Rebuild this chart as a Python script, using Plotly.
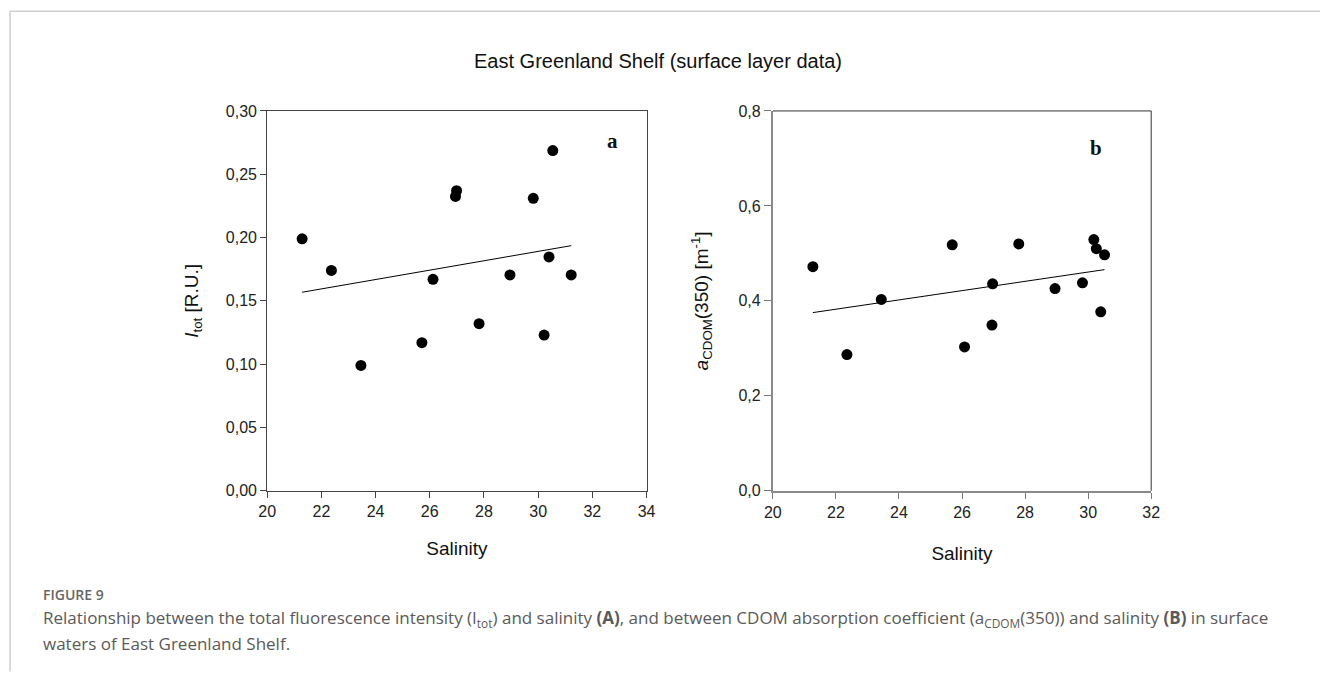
import numpy as np
import plotly.graph_objects as go

# ---- data ----
sal_a = [21.29, 22.37, 23.46, 25.71, 26.12, 26.95, 26.99, 27.82, 28.96, 29.82, 30.22, 30.40, 30.54, 31.22]
itot_a = [0.199, 0.174, 0.099, 0.117, 0.167, 0.2325, 0.237, 0.132, 0.1705, 0.231, 0.123, 0.1847, 0.2687, 0.1705]

sal_b = [21.27, 22.35, 23.44, 25.69, 26.08, 26.95, 26.97, 27.80, 28.95, 29.82, 30.18, 30.26, 30.40, 30.52]
acdom_b = [0.472, 0.287, 0.403, 0.518, 0.303, 0.349, 0.436, 0.520, 0.426, 0.438, 0.529, 0.510, 0.377, 0.497]

xticks_a = [20, 22, 24, 26, 28, 30, 32, 34]
yticks_a = [0.00, 0.05, 0.10, 0.15, 0.20, 0.25, 0.30]
xticks_b = [20, 22, 24, 26, 28, 30, 32]
yticks_b = [0.0, 0.2, 0.4, 0.6, 0.8]

title_text = "East Greenland Shelf (surface layer data)"
caption_head = "FIGURE 9"
caption_l1 = ("Relationship between the total fluorescence intensity (I<sub>tot</sub>) and salinity <b>(A)</b>, "
              "and between CDOM absorption coefficient (a<sub>CDOM</sub>(350)) and salinity <b>(B)</b> in surface")
caption_l2 = "waters of East Greenland Shelf."

W, H = 1320, 674
# observed page offset / scale of the photographed page
OFF, SX, SY = 8, 0.988, 0.977


def px(x):
    return (x / SX - OFF) / W


def py(y):
    return 1 - (y / SY - OFF) / H


fig = go.Figure()


def fit(xs, ys):
    k, b = np.polyfit(xs, ys, 1)
    xx = np.array([min(xs), max(xs)])
    return xx, k * xx + b


lx, ly = fit(sal_a, itot_a)
fig.add_trace(go.Scatter(x=lx, y=ly, mode="lines", line=dict(color="black", width=1),
                         xaxis="x", yaxis="y", showlegend=False, hoverinfo="skip"))
fig.add_trace(go.Scatter(x=sal_a, y=itot_a, mode="markers",
                         marker=dict(color="black", size=11),
                         xaxis="x", yaxis="y", showlegend=False))

lx2, ly2 = fit(sal_b, acdom_b)
fig.add_trace(go.Scatter(x=lx2, y=ly2, mode="lines", line=dict(color="black", width=1),
                         xaxis="x2", yaxis="y2", showlegend=False, hoverinfo="skip"))
fig.add_trace(go.Scatter(x=sal_b, y=acdom_b, mode="markers",
                         marker=dict(color="black", size=11),
                         xaxis="x2", yaxis="y2", showlegend=False))

ydom = [py(491.7), py(111)]
tickfont = dict(family="Liberation Sans, Arial, sans-serif", size=16, color="#222")
titlefont = dict(family="Liberation Sans, Arial, sans-serif", size=19, color="#111")

fig.update_layout(
    width=W, height=H,
    margin=dict(l=0, r=0, t=0, b=0),
    paper_bgcolor="white", plot_bgcolor="white",
    separators=",.",
    showlegend=False,
    xaxis=dict(domain=[px(266.5), px(646.5)], range=[20, 34], tickvals=xticks_a,
               showgrid=False, zeroline=False, showline=True, mirror=True,
               linecolor="#444", linewidth=1, ticks="outside", ticklen=6, tickcolor="#444",
               tickfont=tickfont, anchor="y",
               title=dict(text="Salinity", font=titlefont, standoff=22)),
    yaxis=dict(domain=ydom, range=[0, 0.30], tickvals=yticks_a, tickformat=".2f",
               showgrid=False, zeroline=False, showline=True, mirror=True,
               linecolor="#444", linewidth=1, ticks="outside", ticklen=6, tickcolor="#444",
               tickfont=tickfont, anchor="x",
               title=dict(text="<i>I</i><sub>tot</sub> [R.U.]", font=titlefont, standoff=22)),
    xaxis2=dict(domain=[px(773), px(1152)], range=[20, 32], tickvals=xticks_b,
                showgrid=False, zeroline=False, showline=True, mirror=False,
                linecolor="#8a8a8a", linewidth=2, ticks="outside", ticklen=6, tickcolor="#777",
                tickfont=tickfont, anchor="y2",
                title=dict(text="Salinity", font=titlefont, standoff=27)),
    yaxis2=dict(domain=ydom, range=[0, 0.8], tickvals=yticks_b, tickformat=".1f",
                showgrid=False, zeroline=False, showline=True, mirror=False,
                linecolor="#8a8a8a", linewidth=2, ticks="outside", ticklen=7, tickcolor="#777",
                tickfont=tickfont, anchor="x2",
                title=dict(text="<i>a</i><sub>CDOM</sub>(350) [m<sup>-1</sup>]", font=titlefont, standoff=25)),
)

# top and right frame of panel b (thin dark lines)
fig.add_shape(type="line", xref="x2 domain", yref="y2 domain", x0=0, x1=1, y0=1, y1=1,
              line=dict(color="#333", width=1))
fig.add_shape(type="line", xref="x2 domain", yref="y2 domain", x0=1, x1=1, y0=0, y1=1,
              line=dict(color="#333", width=1))

# page frame lines (light gray)
fig.add_shape(type="line", xref="paper", yref="paper", x0=px(9), x1=1.01, y0=py(11), y1=py(11),
              line=dict(color="#cfcfcf", width=1.5))
fig.add_shape(type="line", xref="paper", yref="paper", x0=px(9), x1=px(9), y0=py(11), y1=-0.01,
              line=dict(color="#cfcfcf", width=1.5))

# panel letters
letterfont = dict(family="Liberation Serif, Times New Roman, serif", size=21, color="#111")
fig.add_annotation(xref="paper", yref="paper", x=px(612), y=py(141), text="<b>a</b>",
                   xanchor="center", yanchor="middle", showarrow=False, font=letterfont)
fig.add_annotation(xref="paper", yref="paper", x=px(1097), y=py(148), text="<b>b</b>",
                   xanchor="center", yanchor="middle", showarrow=False, font=letterfont)

# main title
fig.add_annotation(xref="paper", yref="paper", x=px(658), y=py(61), text=title_text,
                   xanchor="center", yanchor="middle", showarrow=False,
                   font=dict(family="Liberation Sans, Arial, sans-serif", size=20, color="#111"))

# caption
capfont = dict(family="Open Sans, sans-serif", size=17, color="#5a5a5a")
fig.add_annotation(xref="paper", yref="paper", x=px(40), y=py(596), xanchor="left", yanchor="middle",
                   text=caption_head, showarrow=False,
                   font=dict(family="Open Sans, sans-serif", size=14, color="#666666", weight=600))
fig.add_annotation(xref="paper", yref="paper", x=px(40), y=py(620), xanchor="left", yanchor="middle",
                   text=caption_l1, showarrow=False, font=capfont)
fig.add_annotation(xref="paper", yref="paper", x=px(40), y=py(645), xanchor="left", yanchor="middle",
                   text=caption_l2, showarrow=False, font=capfont)

fig.write_html("out.html")
